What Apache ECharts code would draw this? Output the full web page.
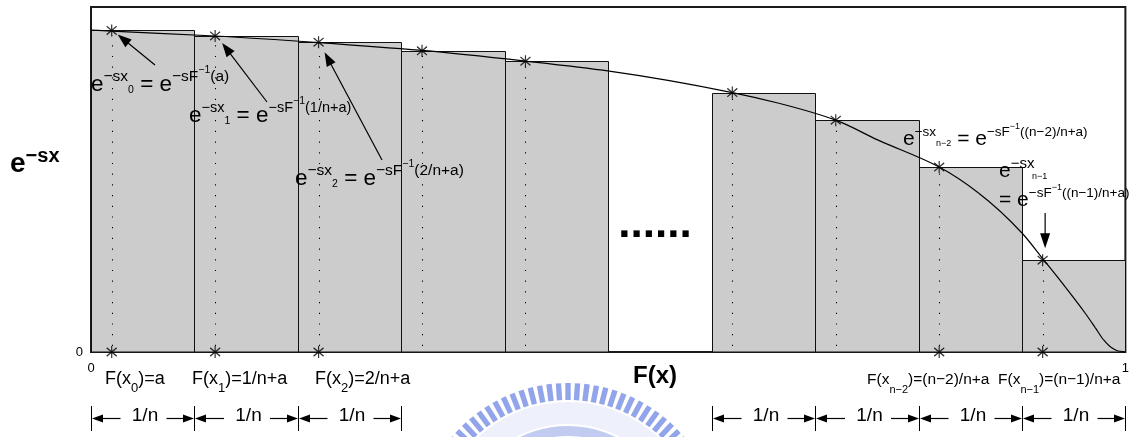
<!DOCTYPE html>
<html>
<head>
<meta charset="utf-8">
<script src="https://cdn.jsdelivr.net/npm/echarts@6/dist/echarts.min.js"></script>
<style>html,body{margin:0;padding:0;background:#fff}#c{width:1132px;height:437px}</style>
</head>
<body>
<div id="c"></div>
<script>
// ---------------- DATA ----------------
const a = 0.02;                 // F(x0)
const binWidth = 0.1;           // 1/n
const binLeft   = [0, 0.1, 0.2, 0.3, 0.4, 0.6, 0.7, 0.8, 0.9];
const binHeight = [0.932, 0.916, 0.898, 0.873, 0.843, 0.752, 0.672, 0.536, 0.266];
const bottomStarIdx = [0, 1, 2, 7, 8];
const curveF = [0, 0.020, 0.120, 0.220, 0.320, 0.420, 0.501, 0.620, 0.665, 0.720, 0.761, 0.820, 0.858, 0.900, 0.921, 0.942, 0.961, 0.971, 0.979, 0.986, 0.993, 1.0];
const curveY = [0.933, 0.930, 0.916, 0.897, 0.874, 0.843, 0.814, 0.752, 0.721, 0.672, 0.614, 0.536, 0.461, 0.345, 0.267, 0.188, 0.113, 0.070, 0.035, 0.014, 0.003, 0.0];
const xTickLabels = ['0', '1'];
const yTickLabels = ['0'];
const dimSegments = [[0, 0.1], [0.1, 0.2], [0.2, 0.3], [0.6, 0.7], [0.7, 0.8], [0.8, 0.9], [0.9, 1.0]];
const dimLabel = '1/n';
const xTitle = 'F(x)';
const gapLabel = '......';

// ---------------- CHART ----------------
const FONT = '"Liberation Sans", Arial, Helvetica, sans-serif';
const chart = echarts.init(document.getElementById('c'), null, {renderer: 'canvas'});
const crisp = v => Math.round(v) + 0.5;

// monotone cubic (Fritsch-Butland) bezier segments through pixel points
function monotoneBeziers(P) {
  const n = P.length, d = [], h = [], m = [];
  for (let i = 0; i < n - 1; i++) { h[i] = P[i + 1][0] - P[i][0]; d[i] = (P[i + 1][1] - P[i][1]) / h[i]; }
  m[0] = d[0]; m[n - 1] = d[n - 2];
  for (let i = 1; i < n - 1; i++) {
    if (d[i - 1] * d[i] <= 0) m[i] = 0;
    else m[i] = 3 * (h[i - 1] + h[i]) / ((2 * h[i] + h[i - 1]) / d[i - 1] + (h[i] + 2 * h[i - 1]) / d[i]);
  }
  const segs = [];
  for (let i = 0; i < n - 1; i++) {
    segs.push({x1: P[i][0], y1: P[i][1], x2: P[i + 1][0], y2: P[i + 1][1],
      cpx1: P[i][0] + h[i] / 3, cpy1: P[i][1] + m[i] * h[i] / 3,
      cpx2: P[i + 1][0] - h[i] / 3, cpy2: P[i + 1][1] - m[i + 1] * h[i] / 3});
  }
  return segs;
}

const starSymbol = 'path://M4 0L4 10M0 1.5L8 8.5M0 8.5L8 1.5';

const option = {
  animation: false,
  backgroundColor: '#fff',
  grid: {left: 91, top: 7, width: 1036, height: 345, show: true, borderColor: '#1a1a1a', borderWidth: 2, backgroundColor: 'transparent'},
  xAxis: {
    type: 'value', min: 0, max: 1, interval: 1,
    axisLine: {show: false}, axisTick: {show: false}, splitLine: {show: false},
    axisLabel: {color: '#000', fontFamily: FONT, fontSize: 13, margin: 10,
      formatter: v => v === 0 ? xTickLabels[0] : (v === 1 ? xTickLabels[1] : '')}
  },
  yAxis: {
    type: 'value', min: 0, max: 1, interval: 1,
    axisLine: {show: false}, axisTick: {show: false}, splitLine: {show: false},
    axisLabel: {color: '#000', fontFamily: FONT, fontSize: 13, margin: 8,
      formatter: v => v === 0 ? yTickLabels[0] : ''}
  },
  series: [
    {
      type: 'custom', name: 'bins', z: 2,
      data: binLeft.map((l, i) => [l, l + binWidth, binHeight[i]]),
      renderItem: (params, api) => {
        const p0 = api.coord([api.value(0), api.value(2)]);
        const p1 = api.coord([api.value(1), 0]);
        const x0 = crisp(p0[0]), y0 = crisp(p0[1]), x1 = crisp(p1[0]), y1 = Math.round(p1[1]);
        return {type: 'rect', shape: {x: x0, y: y0, width: x1 - x0, height: y1 - y0},
          style: {fill: '#cccccc', stroke: '#111', lineWidth: 1}};
      }
    },
    {
      type: 'custom', name: 'dots', z: 3,
      data: binLeft.map((l, i) => [l + a, binHeight[i]]),
      renderItem: (params, api) => {
        const p0 = api.coord([api.value(0), 0]);
        const p1 = api.coord([api.value(0), api.value(1)]);
        const x = crisp(p0[0]);
        return {type: 'line', shape: {x1: x, y1: p0[1] - 6, x2: x, y2: p1[1] + 5},
          style: {stroke: '#000', lineWidth: 1.1, lineDash: [1.2, 9.5]}};
      }
    },
    {
      type: 'custom', name: 'curve', z: 4,
      data: [[curveF[0], curveY[0]]],
      renderItem: (params, api) => {
        const P = curveF.map((f, i) => api.coord([f, curveY[i]]));
        return {type: 'group', children: monotoneBeziers(P).map(s => ({
          type: 'bezierCurve', shape: s, style: {stroke: '#000', lineWidth: 1.2, fill: null}}))};
      }
    },
    {
      type: 'scatter', name: 'starsTop', z: 5,
      symbol: starSymbol, symbolSize: [10, 12],
      itemStyle: {color: 'transparent', borderColor: '#000', borderWidth: 1.3},
      data: binLeft.map((l, i) => [l + a, binHeight[i]])
    },
    {
      type: 'scatter', name: 'starsBottom', z: 5,
      symbol: starSymbol, symbolSize: [10, 12],
      itemStyle: {color: 'transparent', borderColor: '#000', borderWidth: 1.3},
      data: bottomStarIdx.map(i => [binLeft[i] + a, 0])
    }
  ]
};
chart.setOption(option);

// ---------------- ANNOTATIONS ----------------
const px = (x, y) => chart.convertToPixel({gridIndex: 0}, [x, y]);
const G = [];

function arrow(x1, y1, x2, y2, headLen, headW, lw) {
  const dx = x2 - x1, dy = y2 - y1, L = Math.hypot(dx, dy), ux = dx / L, uy = dy / L;
  const bx = x2 - ux * headLen, by = y2 - uy * headLen;
  const nx = -uy * headW / 2, ny = ux * headW / 2;
  G.push({type: 'line', z: 100, shape: {x1, y1, x2: bx + ux, y2: by + uy}, style: {stroke: '#000', lineWidth: lw}});
  G.push({type: 'polygon', z: 100, shape: {points: [[x2, y2], [bx + nx, by + ny], [bx - nx, by - ny]]}, style: {fill: '#000'}});
}

// math text; rich levels m (main), s (sup), t (sup of sup), b (sub)
function mathText(x, B, str, sz, opts) {
  opts = opts || {};
  const top = 32;
  const off = Object.assign({m: 0, s: -11, t: -19, b: 1}, sz.off || {});
  const rich = {};
  ['m', 's', 't', 'b'].forEach(k => {
    const fs = sz[k] || 10;
    const center = top + off[k] - 0.3465 * fs;
    rich[k] = {fontSize: fs, fontFamily: FONT, fontWeight: opts.bold ? 'bold' : 'normal', fill: '#000',
      lineHeight: 48, height: 2 * center, verticalAlign: 'top'};
  });
  G.push({type: 'text', z: 100, x: x, y: B - top,
    style: {text: str, rich: rich, align: opts.align || 'left', verticalAlign: 'top', fill: '#000'}});
}

// pointer arrows from the formulas to the marks
const st = binLeft.map((l, i) => px(l + a, binHeight[i]));
arrow(155, 65, st[0][0] + 6, st[0][1] + 4, 14, 10, 1.2);
arrow(267, 102, st[1][0] + 7, st[1][1] + 7, 14, 10, 1.2);
arrow(382, 160, st[2][0] + 6, st[2][1] + 10, 14, 10, 1.2);
arrow(st[8][0] + 2.5, 213, st[8][0] + 2.5, st[8][1] - 12, 15, 10, 1.2);

const S1 = {m: 22.5, s: 15.5, t: 10.5, b: 10.5, off: {s: -11, t: -19, b: 1}};
mathText(91, 93, '{m|e}{s|\u2212sx}{b|0}{m| = e}{s|\u2212sF}{t|\u22121}{s|(a)}', S1);
mathText(189, 124, '{m|e}{s|\u2212sx}{b|1}{m| = e}{s|\u2212sF}{t|\u22121}{s|(1/n+a)}', Object.assign({}, S1, {s: 14.5}));
mathText(295, 187, '{m|e}{s|\u2212sx}{b|2}{m| = e}{s|\u2212sF}{t|\u22121}{s|(2/n+a)}', S1);
const S2 = {m: 21, s: 13.5, t: 9, b: 9, off: {s: -9, t: -16, b: 1}};
mathText(903, 146, '{m|e}{s|\u2212sx}{b|n\u22122}{m| = e}{s|\u2212sF}{t|\u22121}{s|((n\u22122)/n+a)}', S2);
mathText(999, 178, '{m|e}{s|\u2212sx}', Object.assign({}, S2, {s: 15}));
mathText(1032, 180, '{m|n\u22121}', {m: 9});
mathText(999, 207, '{m|= e}{s|\u2212sF}{t|\u22121}{s|((n\u22121)/n+a)}', S2);

// axis titles
mathText(10, 174, '{m|e}{s|\u2212sx}', {m: 28, s: 20, off: {s: -11}}, {bold: true});
mathText(655, 385, '{m|' + xTitle + '}', {m: 24}, {bold: true, align: 'center'});
mathText(655, 240, '{m|' + gapLabel + '}', {m: 44}, {bold: true, align: 'center'});

// F(x_k) labels
const SL = {m: 18, b: 13, off: {b: 8}};
mathText(105, 385, '{m|F(x}{b|0}{m|)=a}', SL);
mathText(192, 385, '{m|F(x}{b|1}{m|)=1/n+a}', SL);
mathText(315, 385, '{m|F(x}{b|2}{m|)=2/n+a}', SL);
const SR = {m: 15.5, b: 11, off: {b: 9}};
mathText(867, 385, '{m|F(x}{b|n\u22122}{m|)=(n\u22122)/n+a}', SR);
mathText(998, 385, '{m|F(x}{b|n\u22121}{m|)=(n\u22121)/n+a}', SR);

// dimension arrows 1/n
dimSegments.forEach(seg => {
  const xl = Math.round(px(seg[0], 0)[0]), xr = Math.round(px(seg[1], 0)[0]);
  const c = (xl + xr) / 2;
  const y = 418.5;
  [xl, xr].forEach(xx => G.push({type: 'line', z: 100, shape: {x1: xx + 0.5, y1: 406, x2: xx + 0.5, y2: 431}, style: {stroke: '#000', lineWidth: 1}}));
  arrow(c - 22, y, xl + 1, y, 11, 8, 1.2);
  arrow(c + 24, y, xr, y, 11, 8, 1.2);
  mathText(c + 2.5, 422, '{m|' + dimLabel + '}', {m: 19}, {align: 'center'});
});

// faint watermark (logo arc)
(function () {
  const cx = 568, cy = 535, R = 152;
  G.push({type: 'arc', z: 1, shape: {cx, cy, r: 104, startAngle: Math.PI * 1.15, endAngle: Math.PI * 1.85}, style: {stroke: '#c2ccf1', lineWidth: 10, fill: null}});
  G.push({type: 'arc', z: 1, shape: {cx, cy, r: 122, startAngle: Math.PI * 1.15, endAngle: Math.PI * 1.85}, style: {stroke: '#eef1fb', lineWidth: 22, fill: null}});
  for (let ang = -54; ang <= 54.1; ang += 3.6) {
    const t = ang * Math.PI / 180;
    const ux = Math.sin(t), uy = -Math.cos(t), vx = Math.cos(t), vy = Math.sin(t);
    const r0 = R - 17, r1 = R, hw = 2.7;
    G.push({type: 'polygon', z: 1, shape: {points: [
      [cx + ux * r0 - vx * hw, cy + uy * r0 - vy * hw], [cx + ux * r1 - vx * hw, cy + uy * r1 - vy * hw],
      [cx + ux * r1 + vx * hw, cy + uy * r1 + vy * hw], [cx + ux * r0 + vx * hw, cy + uy * r0 + vy * hw]]},
      style: {fill: '#93a5ea'}});
  }
})();

chart.setOption({graphic: {elements: G}});
</script>
</body>
</html>
